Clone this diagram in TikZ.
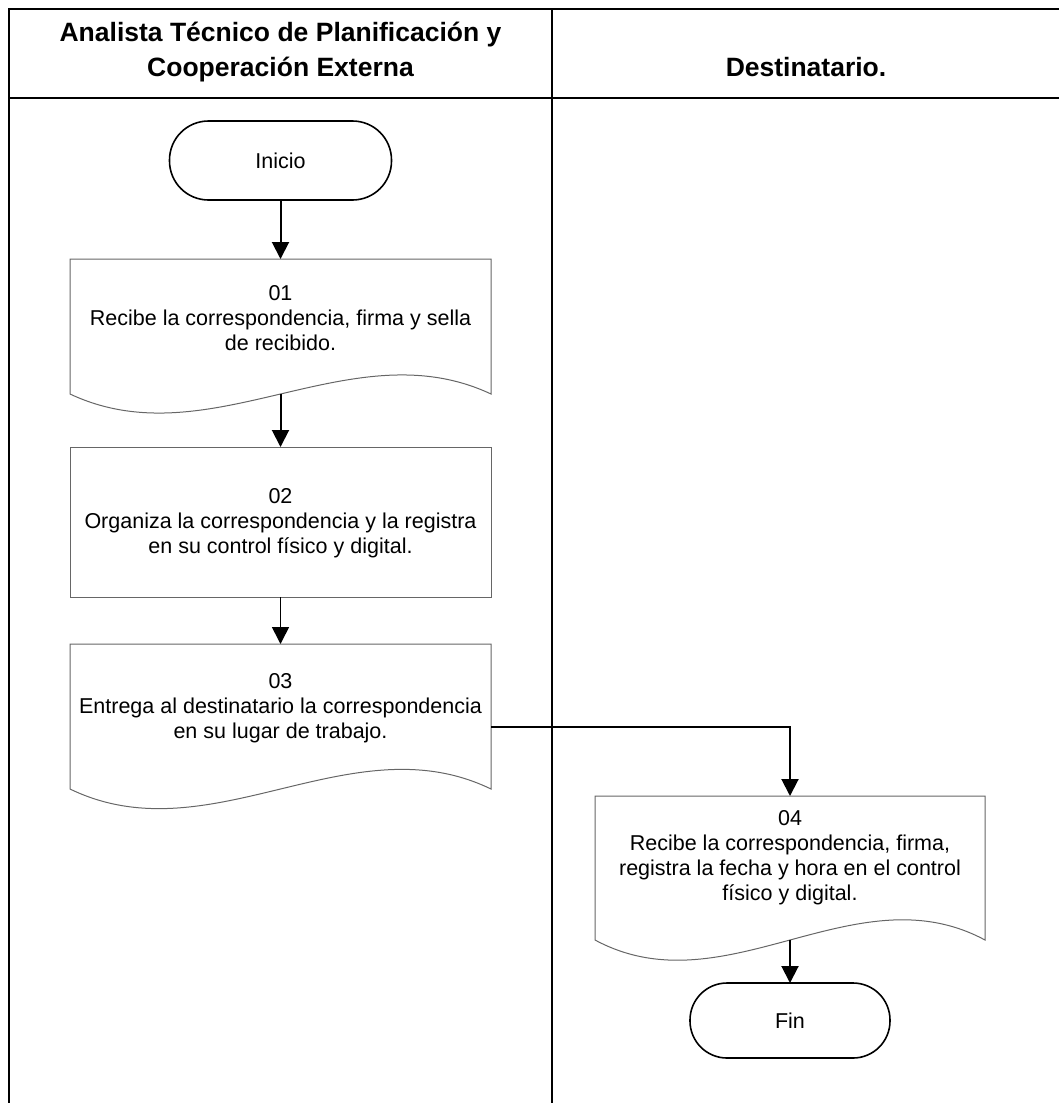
\documentclass[tikz,border=0pt]{standalone}
\usepackage{fontspec}
\setmainfont{Liberation Sans}
\usetikzlibrary{arrows.meta,calc}
\newcommand\docshp[2]{%
  \draw[boxline] (#1.south west) -- (#1.north west) -- (#1.north east) -- (#1.south east)
    .. controls ($(#1.south east)!1/3!(#1.south west)+(0,-#2)$) and ($(#1.south east)!2/3!(#1.south west)+(0,#2)$) .. (#1.south west) -- cycle;}
\begin{document}
\begin{tikzpicture}[x=1pt,y=-1pt,
  frame/.style={line width=2pt, black},
  boxline/.style={draw=black!60, line width=1pt},
  slot/.style={inner sep=0pt, outer sep=0pt},
  term/.style={draw=black, line width=1.6pt, inner sep=0pt, outer sep=0pt, font=\fontsize{21.5}{25}\selectfont},
  flow/.style={line width=2pt, -{Triangle[length=17pt,width=17pt]}},
  txt/.style={font=\fontsize{21.5}{25}\selectfont, align=center, inner sep=0pt},
  hdr/.style={font=\bfseries\fontsize{26.5}{35}\selectfont, align=center, inner sep=0pt},
]
\useasboundingbox (0,0) rectangle (1058,1103);
% frame
\draw[frame] (9,1103) -- (9,9) -- (1060,9);
\draw[frame] (9,98) -- (1060,98);
\draw[frame] (552,9) -- (552,1103);
% headers
\node[hdr] (h1) at (280.5,52) {Analista Técnico de Planificación y\\Cooperación Externa};
\node[hdr] (h2) at (806,67.5) {Destinatario.};
% terminals
\node[term, minimum width=222pt, minimum height=79pt, rounded corners=39pt] (ini) at (280.5,160.5) {Inicio};
\node[term, minimum width=200pt, minimum height=75pt, rounded corners=37pt] (fin) at (790,1020.5) {Fin};
% boxes
\node[slot, minimum width=421pt, minimum height=135pt] (b1) at (280.5,326.5) {};
\node[slot, minimum width=421pt, minimum height=150pt, boxline, draw] (b2) at (280.5,522) {};
\node[slot, minimum width=421pt, minimum height=145pt] (b3) at (280.5,716.5) {};
\node[slot, minimum width=390pt, minimum height=144pt] (b4) at (790,868) {};
\docshp{b1}{66}
\docshp{b3}{68}
\docshp{b4}{70}
% texts
\node[txt] (t1) at (280.5,318) {01\\Recibe la correspondencia, firma y sella\\de recibido.};
\node[txt] (t2) at (280.5,523) {02\\Organiza la correspondencia y la registra\\en su control físico y digital.};
\node[txt] (t3) at (280.5,708) {03\\Entrega al destinatario la correspondencia\\en su lugar de trabajo.};
\node[txt] (t4) at (790,858) {04\\Recibe la correspondencia, firma,\\registra la fecha y hora en el control\\físico y digital.};
% connectors
\draw[flow] (ini.south) -- (b1.north);
\draw[flow] (b1.south) -- (b2.north);
\draw[flow, line width=1.6pt] (b2.south) -- (b3.north);
\draw[flow] ([yshift=-10.5pt]b3.east) -| (b4.north);
\draw[flow] (b4.south) -- (fin.north);
\end{tikzpicture}
\end{document}
